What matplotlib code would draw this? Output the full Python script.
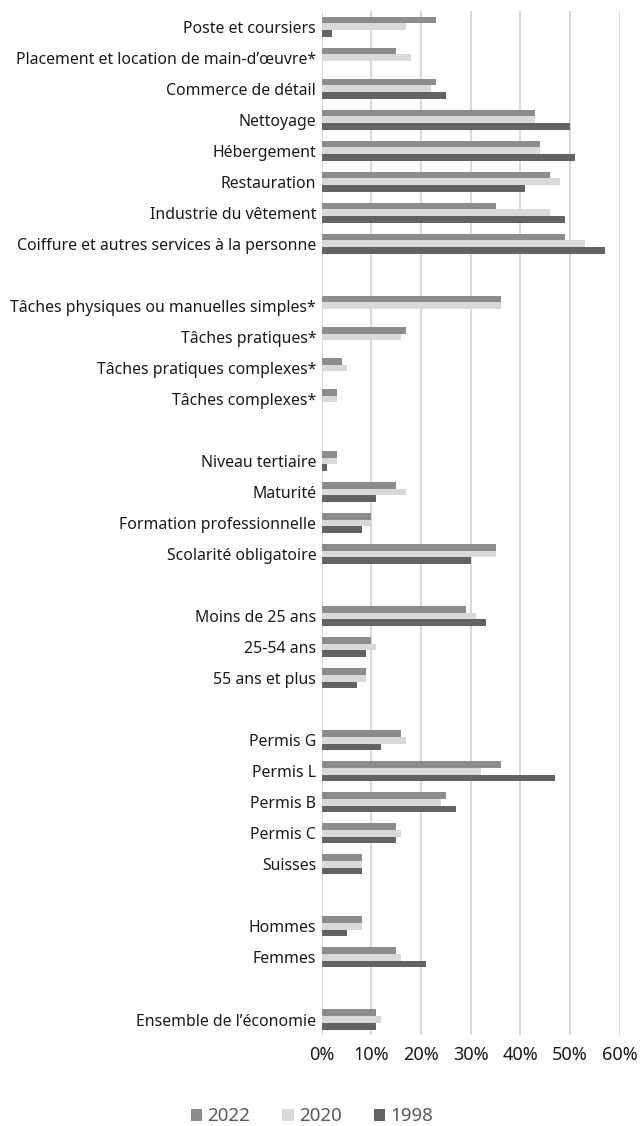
import numpy as np
import matplotlib
matplotlib.use("Agg")
import matplotlib.pyplot as plt
import matplotlib.ticker as ticker

plt.rcParams['font.family'] = ['Noto Sans', 'DejaVu Sans']

# categories from top to bottom, "" = empty separator row
categories = [
    "Poste et coursiers",
    "Placement et location de main-d\u2019\u0153uvre*",
    "Commerce de d\u00e9tail",
    "Nettoyage",
    "H\u00e9bergement",
    "Restauration",
    "Industrie du v\u00eatement",
    "Coiffure et autres services \u00e0 la personne",
    "",
    "T\u00e2ches physiques ou manuelles simples*",
    "T\u00e2ches pratiques*",
    "T\u00e2ches pratiques complexes*",
    "T\u00e2ches complexes*",
    "",
    "Niveau tertiaire",
    "Maturit\u00e9",
    "Formation professionnelle",
    "Scolarit\u00e9 obligatoire",
    "",
    "Moins de 25 ans",
    "25-54 ans",
    "55 ans et plus",
    "",
    "Permis G",
    "Permis L",
    "Permis B",
    "Permis C",
    "Suisses",
    "",
    "Hommes",
    "Femmes",
    "",
    "Ensemble de l\u2019\u00e9conomie",
]

nan = np.nan
v2022 = [23, 15, 23, 43, 44, 46, 35, 49, nan,
         36, 17, 4, 3, nan,
         3, 15, 10, 35, nan,
         29, 10, 9, nan,
         16, 36, 25, 15, 8, nan,
         8, 15, nan,
         11]
v2020 = [17, 18, 22, 43, 44, 48, 46, 53, nan,
         36, 16, 5, 3, nan,
         3, 17, 10, 35, nan,
         31, 11, 9, nan,
         17, 32, 24, 16, 8, nan,
         8, 16, nan,
         12]
v1998 = [2, nan, 25, 50, 51, 41, 49, 57, nan,
         nan, nan, nan, nan, nan,
         1, 11, 8, 30, nan,
         33, 9, 7, nan,
         12, 47, 27, 15, 8, nan,
         5, 21, nan,
         11]

series = [("2022", v2022, "#8c8c8c"),
          ("2020", v2020, "#d9d9d9"),
          ("1998", v1998, "#636363")]

fig = plt.figure(figsize=(6.41, 11.26), dpi=100)
ax = fig.add_axes([0.502, 0.0808, 0.465, 0.9094])

n = len(categories)
y = np.arange(n)
h = 0.215
for k, (name, vals, col) in enumerate(series):
    vals = np.array(vals, dtype=float) / 100
    ax.barh(y + (k - 1) * h, np.nan_to_num(vals), height=h, color=col,
            label=name, zorder=3)

ax.set_ylim(n - 0.5, -0.5)
ax.set_xlim(0, 0.6)
ax.set_yticks(y)
ax.set_yticklabels(categories, fontsize=11.4, color="#1a1a1a")
ax.xaxis.set_major_locator(ticker.MultipleLocator(0.1))
ax.xaxis.set_major_formatter(ticker.PercentFormatter(1.0, decimals=0))
ax.tick_params(axis='x', labelsize=13, colors="#1a1a1a", length=0, pad=8)
ax.tick_params(axis='y', length=0, pad=4)
ax.grid(axis='x', color="#d9d9d9", linewidth=1.5, zorder=0)
for s in ax.spines.values():
    s.set_visible(False)

fig.legend(loc='center', bbox_to_anchor=(0.487, 0.0085), ncol=3, frameon=False,
           fontsize=13.5, labelcolor="#595959", handlelength=0.6,
           handleheight=0.6, handletextpad=0.3, columnspacing=1.7,
           borderpad=0)

fig.savefig("out.png", dpi=100)
